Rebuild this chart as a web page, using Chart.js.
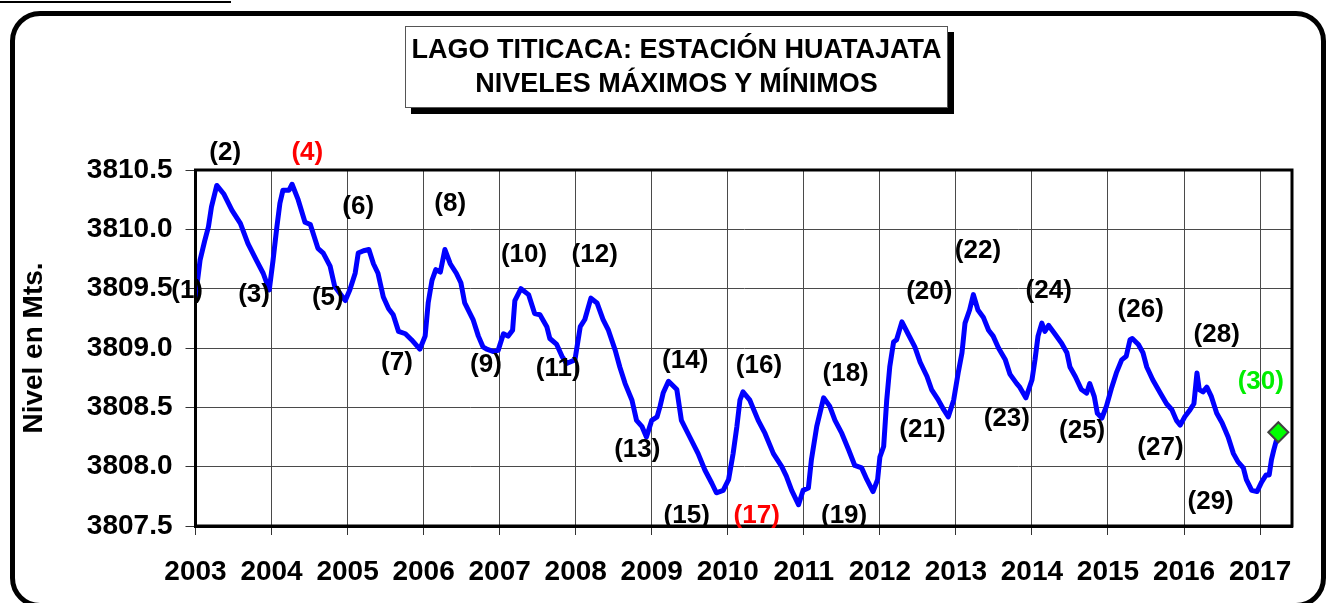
<!DOCTYPE html>
<html>
<head>
<meta charset="utf-8">
<script src="https://cdn.jsdelivr.net/npm/chart.js@4.4.1/dist/chart.umd.min.js"></script>
<style>
  body { margin: 0; background: #fff; }
  #wrap { position: relative; width: 1326px; height: 603px; overflow: hidden; background: #fff; }
  #topline { position: absolute; left: 0; top: 1px; width: 231px; height: 2px; background: #000; }
  #frame { position: absolute; left: 10px; top: 11px; width: 1316px; height: 597px; box-sizing: border-box;
           border: 5px solid #000; border-radius: 30px; }
  #c { position: absolute; left: 0; top: 0; }
  #titlebox { position: absolute; left: 405px; top: 26px; width: 543px; height: 82px; box-sizing: border-box;
              border: 1px solid #555; background: #fff; box-shadow: 6px 6px 0 #000;
              font: bold 27px "Liberation Sans", Arial, sans-serif; line-height: 34px; text-align: center;
              padding-top: 5px; white-space: nowrap; color: #000; }
</style>
</head>
<body>
<div id="wrap">
  <div id="topline"></div>
  <div id="frame"></div>
  <canvas id="c" width="1326" height="603"></canvas>
  <div id="titlebox">LAGO TITICACA: ESTACIÓN HUATAJATA<br>NIVELES MÁXIMOS Y MÍNIMOS</div>
</div>
<script>
// fechas en años decimales y niveles
const years = [
  2003.00, 2003.06, 2003.12, 2003.17, 2003.21, 2003.28, 2003.37, 2003.48, 2003.59, 2003.69, 2003.80, 2003.89, 2003.97,
  2004.02, 2004.07, 2004.11, 2004.15, 2004.23, 2004.27, 2004.35, 2004.44, 2004.51, 2004.61, 2004.68, 2004.77, 2004.83, 2004.90, 2004.97,
  2005.03, 2005.10, 2005.14, 2005.21, 2005.28, 2005.34, 2005.40, 2005.47, 2005.54, 2005.60, 2005.67, 2005.76, 2005.84, 2005.95,
  2006.02, 2006.06, 2006.11, 2006.16, 2006.22, 2006.28, 2006.35, 2006.43, 2006.49, 2006.54, 2006.65, 2006.72, 2006.78, 2006.83, 2006.92, 2006.98,
  2007.05, 2007.11, 2007.17, 2007.20, 2007.28, 2007.38, 2007.46, 2007.53, 2007.62, 2007.66, 2007.75, 2007.82, 2007.88, 2007.99,
  2008.06, 2008.12, 2008.20, 2008.28, 2008.36, 2008.43, 2008.52, 2008.58, 2008.65, 2008.74, 2008.80, 2008.87, 2008.93,
  2009.00, 2009.07, 2009.11, 2009.15, 2009.22, 2009.33, 2009.39, 2009.50, 2009.61, 2009.70, 2009.79, 2009.85, 2009.94,
  2010.01, 2010.07, 2010.12, 2010.16, 2010.20, 2010.29, 2010.40, 2010.49, 2010.60, 2010.71, 2010.77, 2010.84, 2010.93, 2010.99,
  2011.06, 2011.10, 2011.17, 2011.26, 2011.34, 2011.41, 2011.50, 2011.59, 2011.67, 2011.76, 2011.83, 2011.91, 2011.97,
  2012.00, 2012.05, 2012.09, 2012.13, 2012.18, 2012.22, 2012.29, 2012.37, 2012.46, 2012.53, 2012.62, 2012.68, 2012.77, 2012.84, 2012.90, 2012.97,
  2013.03, 2013.08, 2013.12, 2013.18, 2013.23, 2013.29, 2013.36, 2013.43, 2013.49, 2013.56, 2013.65, 2013.71, 2013.80, 2013.84, 2013.92,
  2014.00, 2014.04, 2014.08, 2014.13, 2014.17, 2014.22, 2014.30, 2014.39, 2014.46, 2014.50, 2014.57, 2014.65, 2014.72, 2014.76, 2014.82, 2014.86, 2014.92, 2014.98,
  2015.05, 2015.11, 2015.18, 2015.24, 2015.29, 2015.32, 2015.40, 2015.46, 2015.51, 2015.59, 2015.68, 2015.77, 2015.84, 2015.90, 2015.95,
  2016.01, 2016.08, 2016.13, 2016.17, 2016.20, 2016.25, 2016.30, 2016.36, 2016.43, 2016.50, 2016.58, 2016.65, 2016.71, 2016.78, 2016.82, 2016.89, 2016.96,
  2017.02, 2017.08, 2017.12, 2017.15, 2017.18, 2017.24
];
const levels = [
  3809.43, 3809.74, 3809.90, 3810.02, 3810.19, 3810.37, 3810.30, 3810.16, 3810.05, 3809.88, 3809.74, 3809.63, 3809.49,
  3809.74, 3810.02, 3810.22, 3810.33, 3810.33, 3810.38, 3810.25, 3810.06, 3810.04, 3809.84, 3809.80, 3809.69, 3809.52, 3809.46, 3809.40,
  3809.49, 3809.63, 3809.80, 3809.82, 3809.83, 3809.71, 3809.63, 3809.43, 3809.33, 3809.28, 3809.14, 3809.12, 3809.07, 3808.99,
  3809.10, 3809.38, 3809.57, 3809.66, 3809.64, 3809.83, 3809.71, 3809.63, 3809.55, 3809.38, 3809.24, 3809.10, 3809.01, 3808.99, 3808.97, 3808.98,
  3809.12, 3809.10, 3809.15, 3809.40, 3809.50, 3809.45, 3809.29, 3809.28, 3809.18, 3809.08, 3809.03, 3808.93, 3808.87, 3808.90,
  3809.18, 3809.24, 3809.42, 3809.38, 3809.24, 3809.15, 3808.98, 3808.84, 3808.70, 3808.56, 3808.39, 3808.34, 3808.25,
  3808.39, 3808.42, 3808.51, 3808.62, 3808.72, 3808.65, 3808.39, 3808.25, 3808.11, 3807.97, 3807.86, 3807.78, 3807.80,
  3807.89, 3808.11, 3808.34, 3808.56, 3808.63, 3808.56, 3808.39, 3808.28, 3808.11, 3808.00, 3807.92, 3807.80, 3807.68, 3807.80,
  3807.82, 3808.06, 3808.34, 3808.58, 3808.51, 3808.39, 3808.28, 3808.14, 3808.01, 3807.99, 3807.89, 3807.79, 3807.89,
  3808.08, 3808.17, 3808.56, 3808.84, 3809.05, 3809.07, 3809.22, 3809.12, 3809.01, 3808.88, 3808.76, 3808.65, 3808.56, 3808.48, 3808.42, 3808.56,
  3808.79, 3808.96, 3809.21, 3809.32, 3809.45, 3809.32, 3809.26, 3809.15, 3809.10, 3809.00, 3808.90, 3808.78, 3808.70, 3808.67, 3808.58,
  3808.73, 3808.90, 3809.10, 3809.21, 3809.14, 3809.19, 3809.12, 3809.04, 3808.96, 3808.84, 3808.76, 3808.65, 3808.62, 3808.70, 3808.59, 3808.45, 3808.41, 3808.51,
  3808.67, 3808.79, 3808.90, 3808.93, 3809.07, 3809.08, 3809.03, 3808.96, 3808.84, 3808.73, 3808.63, 3808.53, 3808.48, 3808.39, 3808.35,
  3808.42, 3808.48, 3808.53, 3808.79, 3808.65, 3808.63, 3808.67, 3808.59, 3808.45, 3808.37, 3808.25, 3808.11, 3808.04, 3807.99, 3807.89, 3807.80, 3807.79,
  3807.87, 3807.93, 3807.93, 3808.06, 3808.14, 3808.28
];

// último dato (rombo verde)
const lastYear = [2017.24];
const lastLevel = [3808.29];

// etiquetas (1)..(30), en coordenadas del gráfico
const markNames = ['(1)','(2)','(3)','(4)','(5)','(6)','(7)','(8)','(9)','(10)',
  '(11)','(12)','(13)','(14)','(15)','(16)','(17)','(18)','(19)','(20)',
  '(21)','(22)','(23)','(24)','(25)','(26)','(27)','(28)','(29)','(30)'];
const markYears = [2002.89, 2003.39, 2003.77, 2004.47, 2004.74, 2005.14, 2005.65, 2006.35, 2006.82, 2007.32,
  2007.77, 2008.25, 2008.81, 2009.44, 2009.46, 2010.41, 2010.38, 2011.55, 2011.53, 2012.65,
  2012.56, 2013.29, 2013.67, 2014.22, 2014.66, 2015.43, 2015.69, 2016.43, 2016.35, 2017.01];
const markLevels = [3809.49, 3810.65, 3809.46, 3810.65, 3809.43, 3810.20, 3808.88, 3810.22, 3808.87, 3809.79,
  3808.83, 3809.79, 3808.15, 3808.90, 3807.59, 3808.86, 3807.59, 3808.79, 3807.59, 3809.48,
  3808.32, 3809.83, 3808.41, 3809.49, 3808.31, 3809.33, 3808.17, 3809.12, 3807.71, 3808.72];

const yTicks = [3807.5, 3808.0, 3808.5, 3809.0, 3809.5, 3810.0, 3810.5];
const xFirst = 2003, xLast = 2017.42;

const FONT = '"Liberation Sans", Arial, sans-serif';
const markColor = { '(4)': '#ff0000', '(17)': '#ff0000', '(30)': '#00ee00' };

const frameBox = {
  id: 'frameBox',
  afterDatasetsDraw(chart) {
    const { ctx, chartArea: a } = chart;
    ctx.save();
    ctx.strokeStyle = '#000';
    ctx.lineWidth = 3;
    ctx.strokeRect(a.left, a.top, a.right - a.left, a.bottom - a.top);
    ctx.restore();
  }
};

const markLabels = {
  id: 'markLabels',
  afterDraw(chart) {
    const { ctx } = chart;
    const xs = chart.scales.x, ys = chart.scales.y;
    ctx.save();
    ctx.font = 'bold 26px ' + FONT;
    ctx.textAlign = 'center';
    ctx.textBaseline = 'middle';
    markNames.forEach((t, i) => {
      ctx.fillStyle = markColor[t] || '#000';
      ctx.fillText(t, xs.getPixelForValue(markYears[i]), ys.getPixelForValue(markLevels[i]) + 1);
    });
    ctx.restore();
  }
};

new Chart(document.getElementById('c'), {
  type: 'line',
  data: {
    datasets: [
      {
        data: lastYear.map((x, i) => ({ x, y: lastLevel[i] })),
        showLine: false,
        pointStyle: 'rectRot',
        pointRadius: 10,
        pointBackgroundColor: '#00ff00',
        pointBorderColor: '#404040',
        pointBorderWidth: 2,
        order: 0
      },
      {
        data: years.map((x, i) => ({ x, y: levels[i] })),
        borderColor: '#0000ff',
        borderWidth: 5,
        pointRadius: 0,
        tension: 0,
        borderJoinStyle: 'round',
        borderCapStyle: 'round',
        fill: false,
        order: 1
      }
    ]
  },
  options: {
    responsive: false,
    animation: false,
    layout: { padding: { top: 170, right: 34, bottom: 0, left: 0 } },
    plugins: { legend: { display: false }, tooltip: { enabled: false }, title: { display: false } },
    scales: {
      x: {
        type: 'linear',
        min: xFirst,
        max: xLast,
        afterFit(scale) { scale.height = 77; },
        ticks: {
          stepSize: 1,
          includeBounds: false,
          autoSkip: false,
          maxRotation: 0,
          padding: 20,
          color: '#000',
          font: { family: FONT, size: 28, weight: 'bold' },
          callback: v => Number.isInteger(v) ? String(v) : ''
        },
        grid: { color: '#4a4a4a', lineWidth: 1, tickLength: 9, tickColor: '#333' },
        border: { display: true, color: '#000', width: 3 }
      },
      y: {
        min: yTicks[0],
        max: yTicks[yTicks.length - 1],
        afterFit(scale) { scale.width = 195.5; },
        afterBuildTicks(scale) { scale.ticks = yTicks.map(v => ({ value: v })); },
        ticks: {
          padding: 13,
          color: '#000',
          font: { family: FONT, size: 28, weight: 'bold' },
          callback: v => v.toFixed(1)
        },
        grid: { color: '#4a4a4a', lineWidth: 1, tickLength: 10, tickColor: '#333' },
        border: { display: true, color: '#000', width: 3 },
        title: {
          display: true,
          text: 'Nivel en Mts.',
          color: '#000',
          font: { family: FONT, size: 28, weight: 'bold' },
          padding: { top: 17, bottom: 0 }
        }
      }
    }
  },
  plugins: [frameBox, markLabels]
});
</script>
</body>
</html>
